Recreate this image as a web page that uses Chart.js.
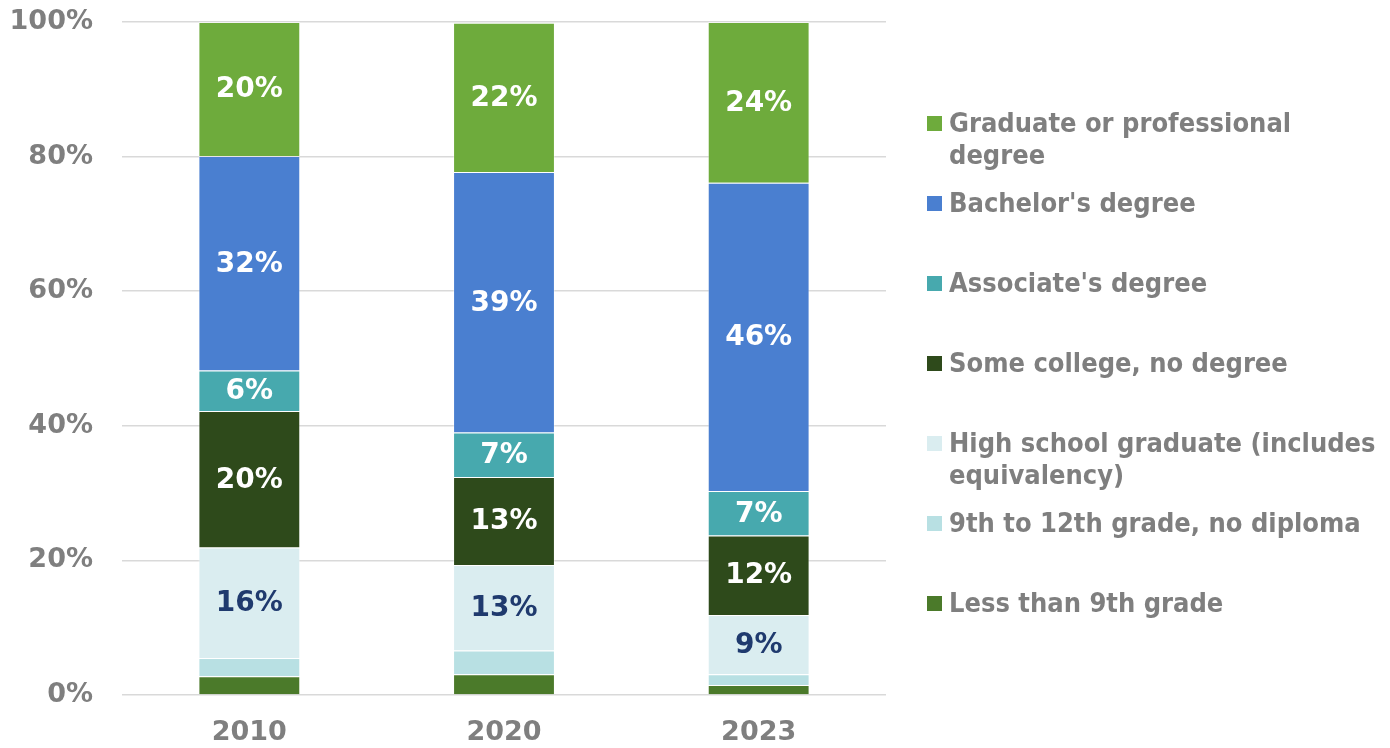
<!DOCTYPE html>
<html>
<head>
<meta charset="utf-8">
<title>Educational attainment, 2010–2023</title>
<script src="https://cdn.jsdelivr.net/npm/chart.js@4/dist/chart.umd.min.js"></script>
<style>
  html, body { margin: 0; padding: 0; background: #fff; }
  #wrap { position: relative; width: 1390px; height: 748px; }
  #legend {
    position: absolute; left: 927px; top: 0; margin: 0; padding: 0; list-style: none;
    font-family: "DejaVu Sans Condensed", "DejaVu Sans", Verdana, sans-serif; font-weight: bold;
    font-stretch: semi-condensed;
    font-size: 27px; line-height: 32px; color: #7f7f7f;
  }
  #legend li { position: absolute; left: 0; white-space: nowrap; }
  #legend .sw { position: absolute; left: 0; top: 9px; width: 15px; height: 15px; }
  #legend .tx { position: absolute; left: 22px; top: 0; }
</style>
</head>
<body>
<div id="wrap">
  <canvas id="chart"></canvas>
  <ul id="legend"></ul>
</div>
<script>
// Survey years
const categories = ['2010', '2020', '2023'];

// Share of population by highest level of education (%), stacked bottom to top
const lessThan9th   = [2.8, 3.1, 1.5];
const grade9to12    = [2.7, 3.5, 1.6];
const highSchool    = [16.4, 12.7, 8.8];
const someCollege   = [20.3, 13.1, 11.8];
const associate     = [6.0, 6.6, 6.6];
const bachelor      = [31.9, 38.7, 45.8];
const graduate      = [19.9, 22.2, 23.9];

// Series names (line breaks as shown in the legend)
const seriesNames = [
  ['Less than 9th grade'],
  ['9th to 12th grade, no diploma'],
  ['High school graduate (includes', 'equivalency)'],
  ['Some college, no degree'],
  ["Associate's degree"],
  ["Bachelor's degree"],
  ['Graduate or professional', 'degree']
];
const seriesValues = [lessThan9th, grade9to12, highSchool, someCollege, associate, bachelor, graduate];
const seriesColors = ['#4b7a2a', '#b8e0e3', '#daedf0', '#2e4a1b', '#47a9ae', '#4a7fd0', '#6eab3c'];
const labelColors  = ['#ffffff', '#ffffff', '#1f3a6e', '#ffffff', '#ffffff', '#ffffff', '#ffffff'];

// Y axis ticks
const yTicks = [0, 20, 40, 60, 80, 100];

const FONT = '"DejaVu Sans", Verdana, sans-serif';
const GREY = '#7f7f7f';

// Percent labels centred in each segment large enough to hold one
const segmentLabels = {
  id: 'segmentLabels',
  afterDatasetsDraw(chart) {
    const ctx = chart.ctx;
    ctx.save();
    ctx.font = 'bold 28px ' + FONT;
    ctx.textAlign = 'center';
    ctx.textBaseline = 'middle';
    chart.data.datasets.forEach((ds, i) => {
      const meta = chart.getDatasetMeta(i);
      meta.data.forEach((bar, j) => {
        const v = ds.data[j];
        if (v < 4) return;
        ctx.fillStyle = labelColors[i];
        ctx.fillText(Math.round(v) + '%', bar.x, (bar.y + bar.base) / 2 + 1);
      });
    });
    ctx.restore();
  }
};

const chart = new Chart(document.getElementById('chart'), {
  type: 'bar',
  data: {
    labels: categories,
    datasets: seriesValues.map((vals, i) => ({
      label: seriesNames[i].join(' '),
      data: vals,
      backgroundColor: seriesColors[i],
      borderColor: 'rgba(255,255,255,0.35)',
      borderWidth: 1,
      categoryPercentage: 1,
      barPercentage: 0.4
    }))
  },
  options: {
    responsive: true,
    maintainAspectRatio: false,
    animation: false,
    layout: { padding: { top: 0, right: 504, left: 0, bottom: 0 } },
    plugins: { legend: { display: false }, tooltip: { enabled: false } },
    scales: {
      x: {
        stacked: true,
        grid: { display: false, drawTicks: false },
        border: { display: false },
        ticks: { color: GREY, font: { family: FONT, size: 27, weight: 'bold' }, padding: 22 },
        afterFit(scale) { scale.height = 53; }
      },
      y: {
        stacked: true,
        min: 0, max: 100,
        afterBuildTicks(scale) { scale.ticks = yTicks.map(v => ({ value: v })); },
        grid: { color: '#d9d9d9', lineWidth: 1.5, drawTicks: false },
        border: { display: false },
        ticks: {
          color: GREY, padding: 29,
          font: { family: FONT, size: 27, weight: 'bold' },
          callback: v => v + '%'
        },
        afterFit(scale) {
          scale.width = 122;
          scale.paddingTop = 22;
          scale.paddingBottom = 0;
        }
      }
    }
  },
  plugins: [segmentLabels]
});

// Legend, listed top segment first
const legend = document.getElementById('legend');
for (let k = seriesNames.length - 1, row = 0; k >= 0; k--, row++) {
  const li = document.createElement('li');
  li.style.top = (107 + row * 80) + 'px';
  const sw = document.createElement('span');
  sw.className = 'sw';
  sw.style.background = seriesColors[k];
  const tx = document.createElement('span');
  tx.className = 'tx';
  tx.innerHTML = seriesNames[k].map(s => s.replace(/&/g, '&amp;')).join('<br>');
  li.appendChild(sw);
  li.appendChild(tx);
  legend.appendChild(li);
}
</script>
</body>
</html>
